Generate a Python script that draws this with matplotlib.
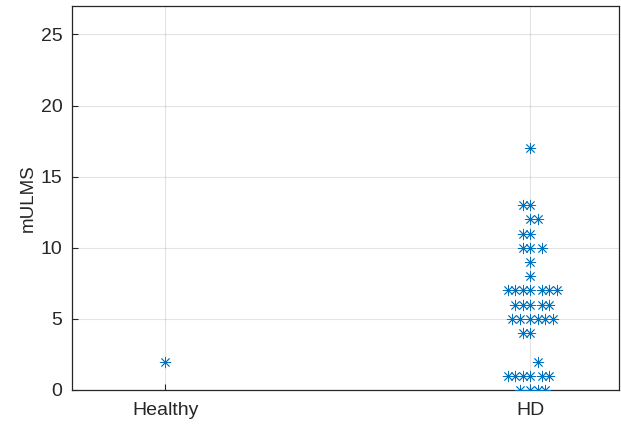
import matplotlib.pyplot as plt

plt.rcParams['font.family'] = ['Liberation Sans', 'DejaVu Sans']

groups = ["Healthy", "HD"]

# Healthy group: one value
healthy_y = [2]
healthy_dx = [0.0]

# HD group: values and the horizontal spread offsets (data units)
hd_y = [17,
        13, 13,
        12, 12,
        11, 11,
        10, 10, 10,
        9,
        8,
        7, 7, 7, 7, 7, 7, 7,
        6, 6, 6, 6, 6,
        5, 5, 5, 5, 5, 5,
        4, 4,
        2,
        1, 1, 1, 1, 1, 1,
        0, 0, 0, 0]
hd_dx = [0.0,
         -0.021, 0.0,
         0.0, 0.021,
         -0.021, 0.0,
         -0.021, 0.0, 0.032,
         0.0,
         0.0,
         -0.062, -0.041, -0.021, 0.0, 0.032, 0.052, 0.073,
         -0.041, -0.021, 0.0, 0.032, 0.052,
         -0.050, -0.029, 0.0, 0.021, 0.041, 0.062,
         -0.021, 0.0,
         0.021,
         -0.062, -0.041, -0.021, 0.0, 0.032, 0.052,
         -0.029, 0.0, 0.021, 0.041]

blue = '#0072BD'
dark = '#262626'

fig = plt.figure(figsize=(6.21, 4.24), dpi=100)
ax = fig.add_axes([0.1164, 0.0802, 0.8804, 0.9056])

mk = dict(marker=(8, 2, 0), s=58, color=blue, linewidths=0.6, zorder=3)
ax.scatter([1 + d for d in healthy_dx], healthy_y, **mk)
ax.scatter([2 + d for d in hd_dx], hd_y, **mk)

ax.set_xlim(0.745, 2.243)
ax.set_ylim(0, 27)
ax.set_xticks([1, 2])
ax.set_xticklabels(groups)
ax.set_yticks([0, 5, 10, 15, 20, 25])
ax.set_ylabel("mULMS", fontsize=13.5, color=dark, labelpad=3)

ax.grid(True, color='#262626', alpha=0.12, linewidth=0.8)
ax.set_axisbelow(True)
ax.tick_params(direction='in', length=4, width=0.8, colors=dark,
               labelsize=14, top=False, right=False)
ax.tick_params(axis='y', pad=7)
ax.tick_params(axis='x', pad=9)
for sp in ax.spines.values():
    sp.set_color(dark)
    sp.set_linewidth(0.9)

fig.savefig("out.png", dpi=100)
